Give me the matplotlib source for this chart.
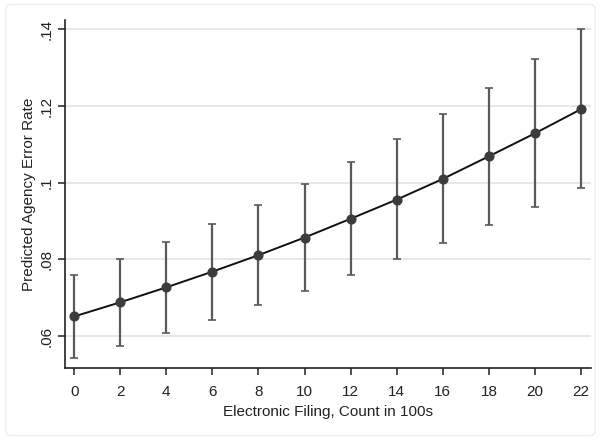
import matplotlib
matplotlib.use("Agg")
import matplotlib.pyplot as plt
from matplotlib.patches import FancyBboxPatch

x = [0, 2, 4, 6, 8, 10, 12, 14, 16, 18, 20, 22]
pred = [0.0651, 0.0688, 0.0727, 0.0768, 0.0811, 0.0857, 0.0906, 0.0956, 0.1010, 0.1069, 0.1129, 0.1192]
lower = [0.0543, 0.0575, 0.0609, 0.0643, 0.0681, 0.0718, 0.0759, 0.0801, 0.0843, 0.0889, 0.0936, 0.0985]
upper = [0.0759, 0.0802, 0.0845, 0.0893, 0.0943, 0.0996, 0.1053, 0.1114, 0.1179, 0.1248, 0.1322, 0.1400]
yticks = [0.06, 0.08, 0.10, 0.12, 0.14]
ytick_labels = [".06", ".08", ".1", ".12", ".14"]

plt.rcParams['font.family'] = ['Liberation Sans', 'DejaVu Sans']

fig = plt.figure(figsize=(6.01, 4.40), dpi=100)
fig.patches.append(FancyBboxPatch((0.01, 0.01), 0.98, 0.98, boxstyle="round,pad=0,rounding_size=0.01",
                                  transform=fig.transFigure, fill=False, edgecolor="#eeeeee", linewidth=1))
ax = fig.add_axes([0.108, 0.164, 0.875, 0.79])

yerr = [[p - l for p, l in zip(pred, lower)], [u - p for p, u in zip(pred, upper)]]
ax.errorbar(x, pred, yerr=yerr, fmt='none', ecolor='#5a5a5a', elinewidth=1.6, capsize=3, capthick=1.2, zorder=2)
ax.plot(x, pred, color='#111111', linewidth=1.4, zorder=3)
ax.plot(x, pred, 'o', color='#3c3c3c', markersize=6.3, zorder=4)

ax.set_xlim(-0.4, 22.42)
ax.set_ylim(0.0517, 0.1424)
ax.set_xticks(x)
ax.set_xticklabels([str(v) for v in x], fontsize=11)
ax.set_yticks(yticks)
ax.set_yticklabels(ytick_labels, fontsize=11, rotation=90, va='center')
ax.yaxis.grid(True, color='#e3e3e3', linewidth=1.2)
ax.set_axisbelow(True)
for s in ['top', 'right']:
    ax.spines[s].set_visible(False)
for s in ['left', 'bottom']:
    ax.spines[s].set_color('#222222')
    ax.spines[s].set_linewidth(1.2)
ax.tick_params(axis='both', colors='#222222', length=5, width=1.1)
ax.tick_params(axis='x', pad=7)
ax.tick_params(axis='y', pad=3)
ax.set_xlabel("Electronic Filing, Count in 100s", fontsize=11, labelpad=5, color='#222222')
ax.set_ylabel("Predicted Agency Error Rate", fontsize=11, labelpad=3, color='#222222')

fig.savefig("out.png", dpi=100, facecolor='white')
